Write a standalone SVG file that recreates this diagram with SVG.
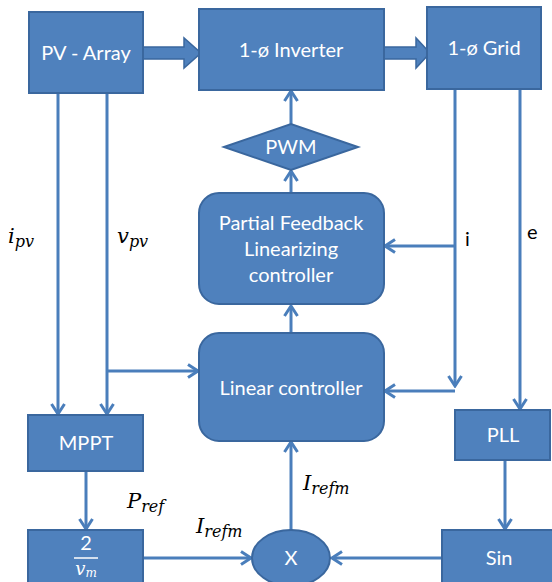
<svg xmlns="http://www.w3.org/2000/svg" width="552" height="582" viewBox="0 0 552 582">
<defs>
<style>
.box{fill:#4F81BD;stroke:#3A679E;stroke-width:2}
.blk{fill:#4F81BD;stroke:#3A679E;stroke-width:1.5}
.t{font-family:Lato,"Open Sans","Liberation Sans",sans-serif;font-size:20px;fill:#fff;text-anchor:middle}
.m{font-family:"DejaVu Serif","Liberation Serif",serif;font-style:italic;font-size:21px;fill:#000}
.mw{font-family:"DejaVu Serif","Liberation Serif",serif;font-style:italic;font-size:18px;fill:#fff}
.lbl{font-family:Lato,"Open Sans","Liberation Sans",sans-serif;font-size:20px;fill:#000}
.ln{fill:none;stroke:#4A7EBB;stroke-width:3}
</style>
<marker id="ah" markerUnits="userSpaceOnUse" markerWidth="14" markerHeight="16" viewBox="0 0 14 16" refX="12" refY="8" orient="auto">
<path d="M2,1.5 L12,8 L2,14.5" fill="none" stroke="#4A7EBB" stroke-width="3"/>
</marker>
</defs>

<g id="connectors">
<polygon class="blk" points="143,47 184,47 184,38 201,53 184,68 184,59 143,59"/>
<polygon class="blk" points="384,47 416,47 416,38 430,53 416,68 416,59 384,59"/>
<path class="ln" d="M58,93 V414" marker-end="url(#ah)"/>
<path class="ln" d="M107,93 V414" marker-end="url(#ah)"/>
<path class="ln" d="M107,371 H198" marker-end="url(#ah)"/>
<path class="ln" d="M291,124 V91" marker-end="url(#ah)"/>
<path class="ln" d="M291,193 V171" marker-end="url(#ah)"/>
<path class="ln" d="M291,333 V306" marker-end="url(#ah)"/>
<path class="ln" d="M291,530 V442" marker-end="url(#ah)"/>
<path class="ln" d="M455,89 V386" marker-end="url(#ah)"/>
<path class="ln" d="M455,246 H385" marker-end="url(#ah)"/>
<path class="ln" d="M455,391 H385" marker-end="url(#ah)"/>
<path class="ln" d="M520,89 V409" marker-end="url(#ah)"/>
<path class="ln" d="M505,460 V529" marker-end="url(#ah)"/>
<path class="ln" d="M442,558 H332" marker-end="url(#ah)"/>
<path class="ln" d="M143,558 H251" marker-end="url(#ah)"/>
<path class="ln" d="M86,471 V529" marker-end="url(#ah)"/>
</g>

<g id="pv-array">
<rect class="box" x="29" y="12" width="114" height="81"/>
<text class="t" x="86" y="60">PV - Array</text>
</g>
<g id="inverter">
<rect class="box" x="199" y="9" width="185" height="81"/>
<text class="t" x="291" y="57">1-ø Inverter</text>
</g>
<g id="grid">
<rect class="box" x="427" y="7" width="114" height="82"/>
<text class="t" x="484" y="55">1-ø Grid</text>
</g>
<g id="pwm">
<polygon class="box" points="224,147 291,124 358,147 291,170"/>
<text class="t" x="291" y="154">PWM</text>
</g>
<g id="pfl-controller">
<rect class="box" x="199" y="193" width="185" height="111" rx="20"/>
<text class="t" x="291" y="230">Partial Feedback</text>
<text class="t" x="291" y="256">Linearizing</text>
<text class="t" x="291" y="282">controller</text>
</g>
<g id="linear-controller">
<rect class="box" x="199" y="333" width="185" height="108" rx="20"/>
<text class="t" x="291" y="395">Linear controller</text>
</g>
<g id="mppt">
<rect class="box" x="28" y="415" width="115" height="56"/>
<text class="t" x="86" y="450">MPPT</text>
</g>
<g id="gain">
<rect class="box" x="28" y="530" width="115" height="60"/>
<text class="t" x="86" y="550">2</text>
<line x1="74" y1="558" x2="98" y2="558" stroke="#fff" stroke-width="1.5"/>
<text class="mw" x="86" y="575" text-anchor="middle">v<tspan font-size="12" dy="2">m</tspan></text>
</g>
<g id="multiplier">
<ellipse class="box" cx="291" cy="558" rx="39" ry="28"/>
<text class="t" x="291" y="565">X</text>
</g>
<g id="pll">
<rect class="box" x="455" y="410" width="95" height="50"/>
<text class="t" x="503" y="442">PLL</text>
</g>
<g id="sin">
<rect class="box" x="442" y="530" width="112" height="60"/>
<text class="t" x="499" y="565">Sin</text>
</g>

<g id="labels">
<text class="m" x="8" y="243">i<tspan font-size="16" dy="4">pv</tspan></text>
<text class="m" x="117" y="243">v<tspan font-size="16" dy="4">pv</tspan></text>
<text class="lbl" x="465" y="246">i</text>
<text class="lbl" x="527" y="239">e</text>
<text class="m" x="127" y="508">P<tspan font-size="16" dy="4">ref</tspan></text>
<text class="m" x="303" y="490">I<tspan font-size="16" dy="4">refm</tspan></text>
<text class="m" x="196" y="533">I<tspan font-size="16" dy="4">refm</tspan></text>
</g>
</svg>
